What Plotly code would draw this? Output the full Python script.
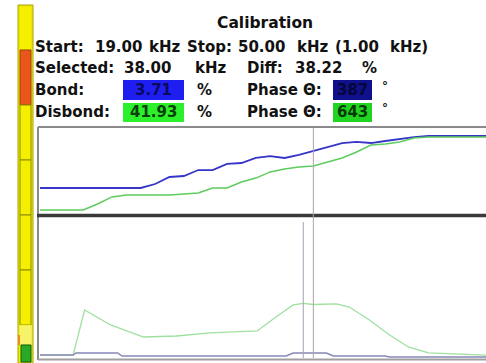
import plotly.graph_objects as go

W, H = 486, 363

# ---- data ----
freq_khz = list(range(19, 51))
bond_amp = [30.7, 30.7, 30.7, 30.7, 30.7, 30.7, 30.7, 30.7, 35.2, 43.2, 44.3, 51.1, 51.1, 58.0, 59.1, 64.8,
            67.0, 64.8, 68.2, 72.7, 77.3, 81.8, 83.0, 81.8, 84.1, 86.4, 88.6, 89.8, 89.8, 89.8, 89.8, 89.8]
disbond_amp = [5.7, 5.7, 5.7, 5.7, 12.5, 20.5, 22.7, 22.7, 22.7, 22.7, 23.9, 25.0, 30.7, 30.7, 37.5, 42.0,
               48.9, 52.3, 54.5, 55.7, 60.2, 64.8, 71.6, 79.5, 80.7, 83.0, 87.5, 88.6, 88.6, 88.6, 88.6, 88.6]

diff_freq = [19.0, 21.3, 22.1, 23.9, 26.2, 28.5, 30.8, 34.1, 35.4, 36.6, 37.3, 38.0, 39.6, 40.5, 41.9,
             43.3, 44.6, 46.0, 50.0]
diff_pct = [2.1, 2.1, 34.3, 23.6, 15.0, 15.7, 17.9, 19.3, 29.3, 37.9, 39.0, 38.2, 38.6, 36.4, 27.1,
            16.4, 7.9, 3.6, 2.1]

base_freq = [19.0, 21.3, 21.5, 24.4, 24.7, 36.1, 36.6, 38.9, 39.4, 43.0, 43.3, 50.0]
base_pct = [2.1, 2.1, 3.6, 3.6, 1.4, 1.4, 3.6, 3.6, 1.4, 1.4, 0.7, 0.7]

selected_khz = 38.0
peak_khz = 37.3

title = "Calibration"
line1 = [("Start:", 33), ("19.00", 93), ("kHz", 147), ("Stop:", 185), ("50.00", 236),
         ("kHz", 295), ("(1.00", 333), ("kHz)", 388)]
line2 = [("Selected:", 33), ("38.00", 122), ("kHz", 193), ("Diff:", 245), ("38.22", 293), ("%", 360)]
bond_vals = ("3.71", "387")
disbond_vals = ("41.93", "643")


def px(x):
    return x / W


def py(y):
    return 1 - y / H


fig = go.Figure()

fig.add_trace(go.Scatter(x=freq_khz, y=bond_amp, mode="lines", line=dict(color="#3535c8", width=1.8),
                         xaxis="x", yaxis="y", hoverinfo="skip"))
fig.add_trace(go.Scatter(x=freq_khz, y=disbond_amp, mode="lines", line=dict(color="#5ccc5c", width=1.4),
                         xaxis="x", yaxis="y", hoverinfo="skip"))
fig.add_trace(go.Scatter(x=diff_freq, y=diff_pct, mode="lines", line=dict(color="#9ee09e", width=1.3),
                         xaxis="x2", yaxis="y2", hoverinfo="skip"))
fig.add_trace(go.Scatter(x=base_freq, y=base_pct, mode="lines", line=dict(color="#8888b8", width=1.5),
                         xaxis="x2", yaxis="y2", hoverinfo="skip"))

ax = dict(showgrid=False, zeroline=False, showticklabels=False, ticks="", showline=False, fixedrange=True)
fig.update_layout(
    width=W, height=H, margin=dict(l=0, r=0, t=0, b=0),
    paper_bgcolor="white", plot_bgcolor="rgba(0,0,0,0)", showlegend=False,
    xaxis=dict(domain=[px(40), 1], range=[19, 50], anchor="y", **ax),
    yaxis=dict(domain=[py(215), py(127)], range=[0, 100], anchor="x", **ax),
    xaxis2=dict(domain=[px(40), 1], range=[19, 50], anchor="y2", **ax),
    yaxis2=dict(domain=[py(358), py(218)], range=[0, 100], anchor="x2", **ax),
)

shapes = []
# plot frame
shapes.append(dict(type="line", xref="paper", yref="paper", x0=px(38), x1=1, y0=py(127), y1=py(127),
                   line=dict(color="#8a8a8a", width=2)))
shapes.append(dict(type="line", xref="paper", yref="paper", x0=px(38), x1=px(38), y0=py(127), y1=py(360),
                   line=dict(color="#8a8a8a", width=2)))
shapes.append(dict(type="line", xref="paper", yref="paper", x0=px(37), x1=1, y0=py(215.5), y1=py(215.5),
                   line=dict(color="#3a3a3a", width=3.5)))
shapes.append(dict(type="line", xref="paper", yref="paper", x0=px(38), x1=1, y0=py(359.5), y1=py(359.5),
                   line=dict(color="#a0a0a0", width=2)))
# cursors
shapes.append(dict(type="line", xref="x", yref="paper", x0=selected_khz, x1=selected_khz,
                   y0=py(358), y1=py(128), line=dict(color="#b0a0a8", width=1)))
shapes.append(dict(type="line", xref="x2", yref="paper", x0=peak_khz, x1=peak_khz,
                   y0=py(358), y1=py(222), line=dict(color="#a8a0b0", width=1)))


# left status bar
def rect(x0, y0, x1, y1, fill, line="#8c8c00", lw=1):
    shapes.append(dict(type="rect", xref="paper", yref="paper", x0=px(x0), x1=px(x1), y0=py(y1), y1=py(y0),
                       fillcolor=fill, line=dict(color=line, width=lw)))


rect(18, 5, 33, 363, "#f4ee00", "#a8a400", 1)
rect(19, 6, 32, 50, "#f6f000", "#c8c400", 0.5)
rect(20, 50, 31, 105, "#e8561c", "#a04010", 1)
for y0 in (105, 160, 215, 270):
    rect(20, y0, 31, y0 + 55, "#f4ee00", "#8c8c00", 1)
rect(19, 325, 32, 345, "#f6f36a", "#d8d400", 0.5)
rect(18, 335, 20, 345, "#f08a20", "#f08a20", 0)
rect(21, 345, 31, 362, "#2aa82a", "#0f600f", 1)

# value boxes
rect(123, 80, 184, 100, "#1e1ef0", "#1e1ef0", 0)
rect(333, 80, 372, 100, "#10108c", "#10108c", 0)
rect(123, 103, 184, 122, "#2cf02c", "#2cf02c", 0)
rect(333, 103, 372, 122, "#22d422", "#22d422", 0)

fig.update_layout(shapes=shapes)

FONT = "DejaVu Sans"
annotations = []


def txt(s, x, y, size=15, color="#111111", anchor="left"):
    annotations.append(dict(text="<b>%s</b>" % s, x=px(x), y=py(y), xref="paper", yref="paper",
                            xanchor=anchor, yanchor="middle", showarrow=False,
                            font=dict(family=FONT, size=size, color=color)))


txt(title, 265, 23, size=15.5, anchor="center")
for s, x in line1:
    txt(s, x, 47)
for s, x in line2:
    txt(s, x, 68)
txt("Bond:", 33, 90)
txt(bond_vals[0], 153.5, 90, color="#0a0a60", anchor="center")
txt("%", 195, 90)
txt("Phase Θ:", 245, 90)
txt(bond_vals[1], 352.5, 90, color="#06063a", anchor="center")
txt("°", 380, 86, size=12)
txt("Disbond:", 33, 112)
txt(disbond_vals[0], 153.5, 112, color="#0a400a", anchor="center")
txt("%", 195, 112)
txt("Phase Θ:", 245, 112)
txt(disbond_vals[1], 352.5, 112, color="#073a07", anchor="center")
txt("°", 380, 108, size=12)

fig.update_layout(annotations=annotations)

fig.write_html("out.html", config={"displayModeBar": False},
               post_script="document.body.style.margin='0';")
